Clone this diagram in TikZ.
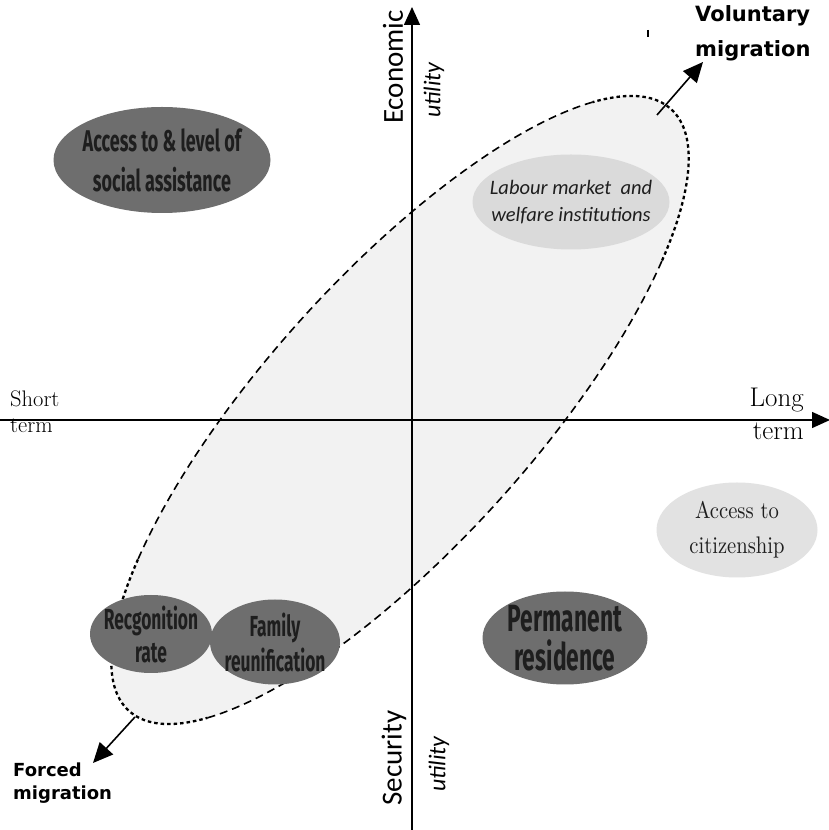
\documentclass[tikz,border=0pt]{standalone}
\usepackage{fontspec}
\usetikzlibrary{arrows.meta,shapes.geometric}
\newfontfamily\agencyfont{Fira Sans}[FakeStretch=0.6]
\newfontfamily\calibfont{Carlito}
\newfontfamily\labelfont{DejaVu Sans}
\newfontfamily\lmcond{lmroman10-regular}[Extension=.otf,FakeStretch=0.86]
\definecolor{darkell}{HTML}{6E6E6E}
\definecolor{lightell}{HTML}{DADADA}
\definecolor{citell}{HTML}{E2E2E2}
\definecolor{bigfill}{HTML}{F2F2F2}
\definecolor{textdark}{HTML}{1E1E1E}
\begin{document}
\begin{tikzpicture}[x=1pt,y=1pt,
  darknode/.style={ellipse, fill=darkell, draw=none, inner sep=0pt},
  lightnode/.style={ellipse, fill=lightell, draw=none, inner sep=0pt},
  citnode/.style={ellipse, fill=citell, draw=none, inner sep=0pt},
  elltext/.style={inner sep=0pt, align=center, text=textdark},
  axisline/.style={line width=1.4pt, -{Triangle[length=18pt,width=16pt]}},
  migarrow/.style={line width=1.6pt, -{Triangle[length=20pt,width=18pt]}},
  dashmain/.style={line width=1.6pt, dash pattern=on 8pt off 5pt},
  dashend/.style={line width=2.3pt, dash pattern=on 3.5pt off 3pt},
  plainlabel/.style={inner sep=0pt},
]
\useasboundingbox (0,0) rectangle (829,830);
\fill[white] (0,0) rectangle (829,830);
% big ellipse fill
\begin{scope}[shift={(400,420)}, rotate=48]
  \fill[bigfill] (0,0) ellipse [x radius=405, y radius=134];
\end{scope}
% labour node (under the dashed outline)
\node[lightnode, minimum width=197pt, minimum height=95pt] (labour) at (571,628) {};
\node[elltext, font={\calibfont\itshape\fontsize{20.5}{27}\selectfont}] (labourtext) at (labour.center)
  {Labour market\ \ and\\welfare institutions};
% dashed outline
\begin{scope}[shift={(400,420)}, rotate=48]
  \draw[dashmain] (28:405 and 134) arc[start angle=28, end angle=135, x radius=405, y radius=134];
  \draw[dashend] (135:405 and 134) arc[start angle=135, end angle=208, x radius=405, y radius=134];
  \draw[dashmain] (208:405 and 134) arc[start angle=208, end angle=315, x radius=405, y radius=134];
  \draw[dashend] (315:405 and 134) arc[start angle=315, end angle=388, x radius=405, y radius=134];
\end{scope}
% axes
\coordinate (ybot) at (412,0);
\coordinate (ytop) at (412,823);
\coordinate (xleft) at (0,410);
\coordinate (xright) at (830,410);
\draw[axisline] (ybot) -- (ytop);
\draw[axisline] (xleft) -- (xright);
% axis labels
\node[plainlabel, anchor=base west, font=\fontsize{22.5}{26}\selectfont] (short) at (10,423) {Short};
\node[plainlabel, anchor=base west, font=\fontsize{22.5}{26}\selectfont] (shortterm) at (10,397) {term};
\node[plainlabel, anchor=base east, font=\fontsize{27}{30}\selectfont] (long) at (804,423) {Long};
\node[plainlabel, anchor=base east, font=\fontsize{27}{30}\selectfont] (longterm) at (804,390) {term};
\node[plainlabel, rotate=90, font={\calibfont\fontsize{29}{34}\selectfont}] (econ) at (393,763) {Economic};
\node[plainlabel, rotate=90, font={\calibfont\itshape\fontsize{24}{28}\selectfont}] (utiltop) at (434,740) {utility};
\node[plainlabel, rotate=90, font={\calibfont\fontsize{29}{34}\selectfont}] (secur) at (394,72) {Security};
\node[plainlabel, rotate=90, font={\calibfont\itshape\fontsize{24}{28}\selectfont}] (utilbot) at (439,66) {utility};
% migration labels and arrows
\node[plainlabel, anchor=base west, font={\labelfont\bfseries\fontsize{21}{25}\selectfont}] (vol1) at (695,808) {Voluntary};
\node[plainlabel, anchor=base west, font={\labelfont\bfseries\fontsize{21}{25}\selectfont}] (vol2) at (695,773) {migration};
\node[plainlabel, anchor=base west, font={\labelfont\bfseries\fontsize{18}{22}\selectfont}] (for1) at (13,53) {Forced};
\node[plainlabel, anchor=base west, font={\labelfont\bfseries\fontsize{18}{22}\selectfont}] (for2) at (13,30) {migration};
\coordinate (vstart) at (657,715);
\coordinate (vend) at (703,768);
\coordinate (fstart) at (135,113);
\coordinate (fend) at (93,67);
\draw[migarrow] (vstart) -- (vend);
\draw[migarrow] (fstart) -- (fend);
% small mark
\coordinate (mk1) at (648,800);
\coordinate (mk2) at (648,793);
\draw[line width=1.5pt] (mk1) -- (mk2);
% ellipse nodes
\node[darknode, minimum width=217pt, minimum height=106pt] (social) at (162,670) {};
\node[elltext, font={\agencyfont\bfseries\fontsize{30}{40}\selectfont}] (socialtext) at (social.center)
  {Access to \& level of\\social assistance};
\node[citnode, minimum width=161pt, minimum height=95pt] (citizen) at (737,300) {};
\node[elltext, font={\lmcond\fontsize{24}{35}\selectfont}] (citizentext) at (citizen.center)
  {Access to\\citizenship};
\node[darknode, minimum width=165pt, minimum height=93pt] (perm) at (565,192) {};
\node[elltext, font={\agencyfont\bfseries\fontsize{38}{39}\selectfont}] (permtext) at (perm.center)
  {Permanent\\residence};
\node[darknode, minimum width=122pt, minimum height=78pt] (recog) at (151,196) {};
\node[elltext, font={\agencyfont\bfseries\fontsize{29}{33}\selectfont}] (recogtext) at (recog.center)
  {Recgonition\\rate};
\node[darknode, minimum width=130pt, minimum height=85pt] (family) at (275,188) {};
\node[elltext, font={\agencyfont\bfseries\fontsize{29}{35}\selectfont}] (familytext) at (family.center)
  {Family\\reunification};
\end{tikzpicture}
\end{document}
